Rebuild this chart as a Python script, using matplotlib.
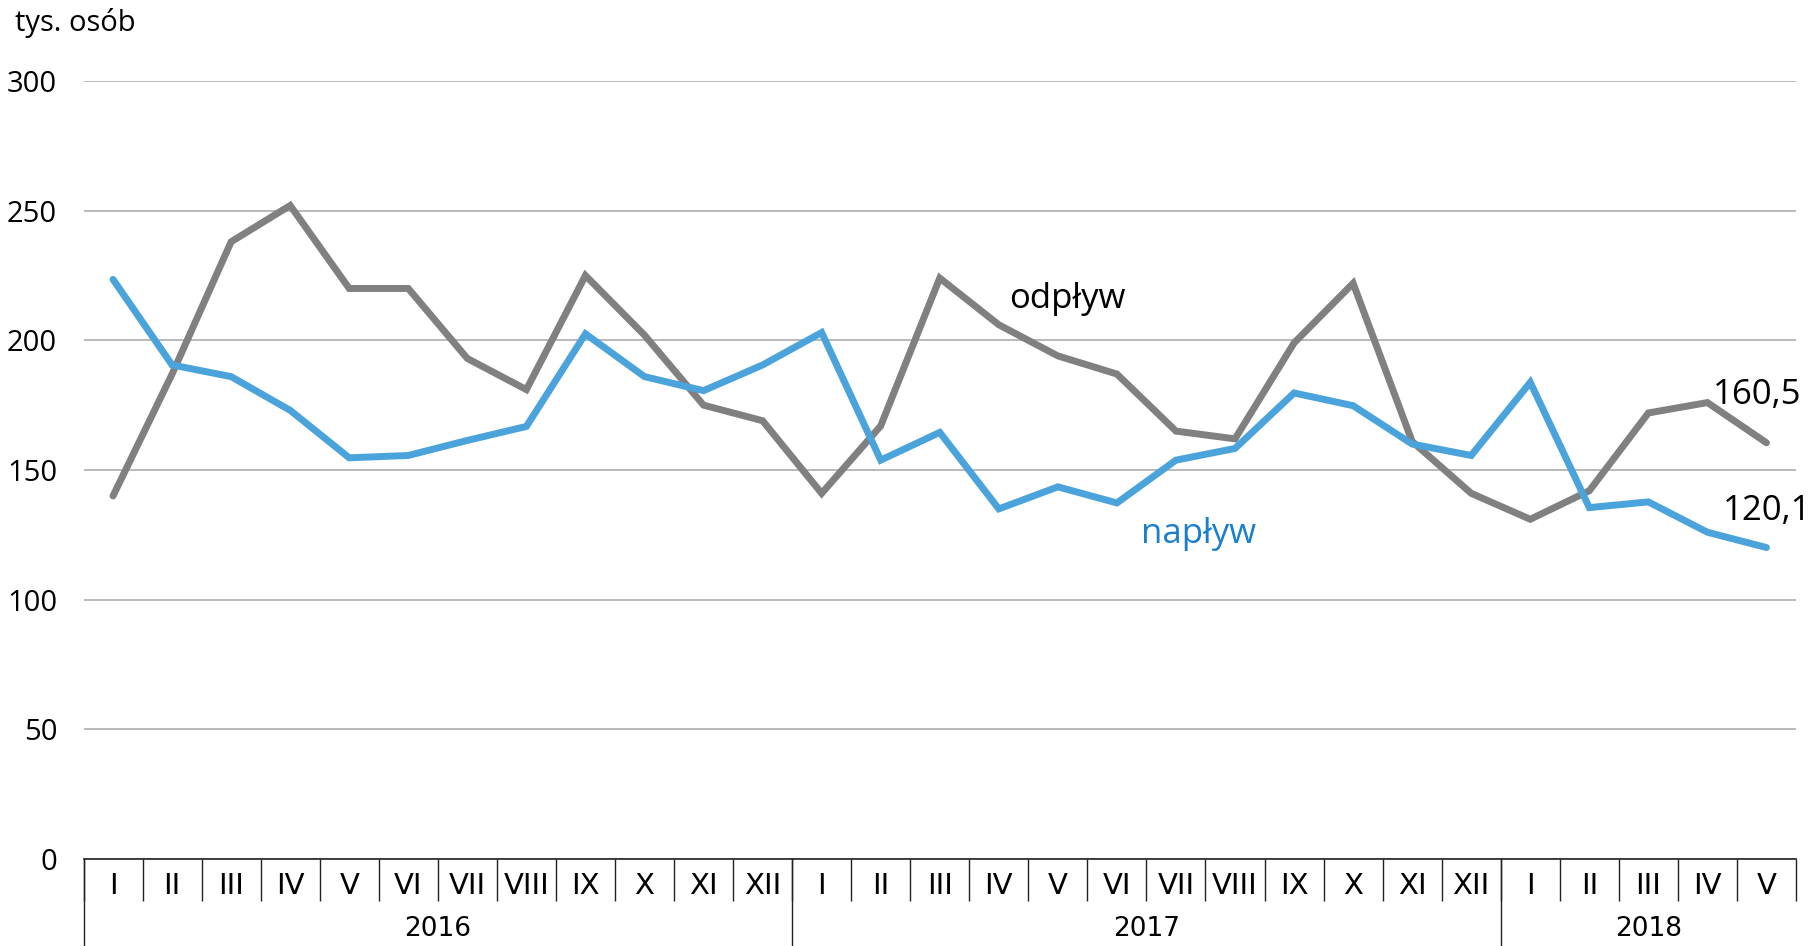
import numpy as np
import matplotlib
matplotlib.use("Agg")
import matplotlib.pyplot as plt
import matplotlib.transforms as mtransforms

# --- DATA ---
months = ["I", "II", "III", "IV", "V", "VI", "VII", "VIII", "IX", "X", "XI", "XII",
          "I", "II", "III", "IV", "V", "VI", "VII", "VIII", "IX", "X", "XI", "XII",
          "I", "II", "III", "IV", "V"]
years = ["2016", "2017", "2018"]
year_lengths = [12, 12, 5]

odplyw = [140, 187, 238, 252, 220, 220, 193, 181, 225, 202, 175, 169,
          141, 167, 224, 206, 194, 187, 165, 162, 199, 222, 161, 141,
          131, 142, 172, 176, 160.5]
naplyw = [223.5, 190.5, 186, 173, 154.7, 155.6, 161.4, 166.8, 202.5, 186, 180.6, 190.5,
          203, 153.8, 164.5, 135, 143.5, 137.3, 153.8, 158.3, 179.7, 174.8, 160, 155.6,
          183.8, 135.5, 137.7, 126, 120.1]

GRAY = "#808080"
BLUE = "#4ba3db"
BLUE_TXT = "#1a7fcf"
narrow = ["Liberation Sans Narrow", "DejaVu Sans"]
plt.rcParams["font.family"] = ["Open Sans", "DejaVu Sans"]

W, H = 1816, 946
fig = plt.figure(figsize=(W / 100, H / 100), dpi=100)
ax = fig.add_axes([83.5 / W, 1 - 859 / H, (1796 - 83.5) / W, (859 - 81) / H])

x = np.arange(len(months))
ax.plot(x, odplyw, color=GRAY, lw=5, solid_capstyle="round", solid_joinstyle="miter", zorder=3)
ax.plot(x, naplyw, color=BLUE, lw=5, solid_capstyle="round", solid_joinstyle="miter", zorder=3)

ax.set_xlim(-0.5, len(months) - 0.5)
ax.set_ylim(0, 300)
ax.set_yticks(range(0, 301, 50))
ax.yaxis.grid(True, color="#a6a6a6", lw=1.1)
ax.set_axisbelow(True)
for s in ["top", "right", "left"]:
    ax.spines[s].set_visible(False)
ax.spines["bottom"].set_color("#222222")
ax.spines["bottom"].set_linewidth(1.2)
ax.tick_params(axis="y", length=0, pad=19, labelsize=21)

# month labels and separators
ax.set_xticks(x)
ax.set_xticklabels(months, family=narrow, fontsize=21)
ax.tick_params(axis="x", which="major", length=0, pad=9)
ax.set_xticks(np.arange(-0.5, len(months)), minor=True)
ax.tick_params(axis="x", which="minor", length=30, width=1, color="#222222")

# year labels and long separators
trans = mtransforms.blended_transform_factory(ax.transData, ax.transAxes)
start = 0
for yr, n in zip(years, year_lengths):
    ax.text(start + n / 2 - 0.5, -70 / 778, yr, transform=trans, ha="center", va="center",
            fontsize=19, family=narrow)
    ax.plot([start - 0.5, start - 0.5], [0, -90 / 778], transform=trans, color="#222222",
            lw=1, clip_on=False)
    start += n

fig.text(15 / W, 1 - 23 / H, "tys. osób", fontsize=21, va="center", ha="left")

fig.text(1067 / W, 1 - 299 / H, "odpływ", fontsize=25, ha="center", va="center", color="black")
fig.text(1199 / W, 1 - 534 / H, "napływ", fontsize=25, ha="center", va="center", color=BLUE_TXT)
fig.text(1801 / W, 1 - 395 / H, "160,5", fontsize=25, ha="right", va="center")
fig.text(1811 / W, 1 - 511 / H, "120,1", fontsize=25, ha="right", va="center")

fig.savefig("out.png", dpi=100)
